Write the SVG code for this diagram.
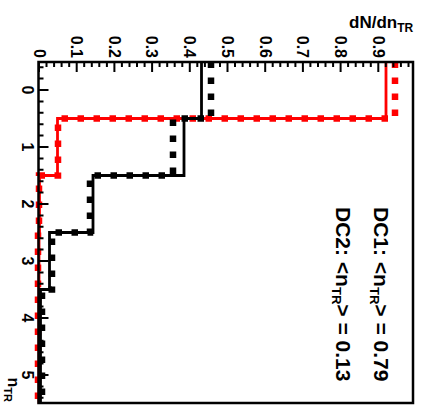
<svg xmlns="http://www.w3.org/2000/svg" width="422" height="409" viewBox="0 0 422 409">
<style>
text{font-family:"Liberation Sans",Arial,sans-serif;font-weight:bold;fill:#000}
.ax{stroke:#000;stroke-width:2.5;fill:none}
.tk{stroke:#000;stroke-width:2;fill:none}
.h{fill:none;stroke-linejoin:miter}
.sol{stroke-width:2.8}
.dsh{stroke-width:6.5;stroke-dasharray:6.5 9.5}
.red{stroke:#ff0000}
.blk{stroke:#000}
.tl{font-size:16px}
.lg{font-size:21px}
</style>
<rect width="422" height="409" fill="#fff"/>
<g id="histograms">
<path class="h sol red" d="M386,61.5 V118.5 H57.5 V175.5 H39.5 V232.5 H39 V403.5"/>
<path class="h dsh red" d="M395,61.5 V118.5 H58 V175.5 H39 V232.5 H38 V403.5"/>
<path class="h sol blk" d="M201.5,61.5 V118.5 H184 V175.5 H93 V232.5 H49.5 V289.5 H40.5 V403.5"/>
<path class="h dsh blk" d="M211,61.5 V118.5 H173 V175.5 H90 V232.5 H52 V289.5 H42 V403.5"/>
</g>
<g id="frame">
<rect class="ax" x="38.5" y="62" width="374.5" height="341"/>
<path class="tk" d="M39,62v10M46.5,62v5M54.1,62v5M61.6,62v5M69.2,62v5M76.7,62v10M84.2,62v5M91.8,62v5M99.3,62v5M106.9,62v5M114.4,62v10M121.9,62v5M129.5,62v5M137,62v5M144.6,62v5M152.1,62v10M159.6,62v5M167.2,62v5M174.7,62v5M182.3,62v5M189.8,62v10M197.3,62v5M204.9,62v5M212.4,62v5M220,62v5M227.5,62v10M235,62v5M242.6,62v5M250.1,62v5M257.7,62v5M265.2,62v10M272.7,62v5M280.3,62v5M287.8,62v5M295.4,62v5M302.9,62v10M310.4,62v5M318,62v5M325.5,62v5M333.1,62v5M340.6,62v10M348.1,62v5M355.7,62v5M363.2,62v5M370.8,62v5M378.3,62v10M385.8,62v5M393.4,62v5M400.9,62v5M408.5,62v5"/>
<path class="tk" d="M38.5,67.2h5M38.5,78.6h5M38.5,90h10M38.5,101.4h5M38.5,112.8h5M38.5,124.2h5M38.5,135.6h5M38.5,147h10M38.5,158.4h5M38.5,169.8h5M38.5,181.2h5M38.5,192.6h5M38.5,204h10M38.5,215.4h5M38.5,226.8h5M38.5,238.2h5M38.5,249.6h5M38.5,261h10M38.5,272.4h5M38.5,283.8h5M38.5,295.2h5M38.5,306.6h5M38.5,318h10M38.5,329.4h5M38.5,340.8h5M38.5,352.2h5M38.5,363.6h5M38.5,375h10M38.5,386.4h5M38.5,397.8h5"/>
</g>
<g id="top-labels" class="tl" text-anchor="end">
<text transform="translate(33.5,58) rotate(90)">0</text>
<text transform="translate(71,58) rotate(90)">0.1</text>
<text transform="translate(108.7,58) rotate(90)">0.2</text>
<text transform="translate(146.4,58) rotate(90)">0.3</text>
<text transform="translate(184.1,58) rotate(90)">0.4</text>
<text transform="translate(221.8,58) rotate(90)">0.5</text>
<text transform="translate(259.5,58) rotate(90)">0.6</text>
<text transform="translate(297.2,58) rotate(90)">0.7</text>
<text transform="translate(334.9,58) rotate(90)">0.8</text>
<text transform="translate(372.6,58) rotate(90)">0.9</text>
</g>
<g id="left-labels" class="tl" text-anchor="middle">
<text transform="translate(21.5,90) rotate(90)">0</text>
<text transform="translate(21.5,147) rotate(90)">1</text>
<text transform="translate(21.5,204) rotate(90)">2</text>
<text transform="translate(21.5,261) rotate(90)">3</text>
<text transform="translate(21.5,318) rotate(90)">4</text>
<text transform="translate(21.5,375) rotate(90)">5</text>
</g>
<g id="axis-titles">
<text x="349" y="28" font-size="17">dN/dn<tspan font-size="12" dy="4">TR</tspan></text>
<text transform="translate(8,402) rotate(90)" text-anchor="end" font-size="16">n<tspan font-size="11" dy="4">TR</tspan></text>
</g>
<g id="legend" class="lg">
<text transform="translate(374,207) rotate(90)">DC1: &lt;n<tspan font-size="13" dy="4">TR</tspan><tspan dy="-4">&gt; = 0.79</tspan></text>
<text transform="translate(336,207) rotate(90)">DC2: &lt;n<tspan font-size="13" dy="4">TR</tspan><tspan dy="-4">&gt; = 0.13</tspan></text>
</g>
</svg>
